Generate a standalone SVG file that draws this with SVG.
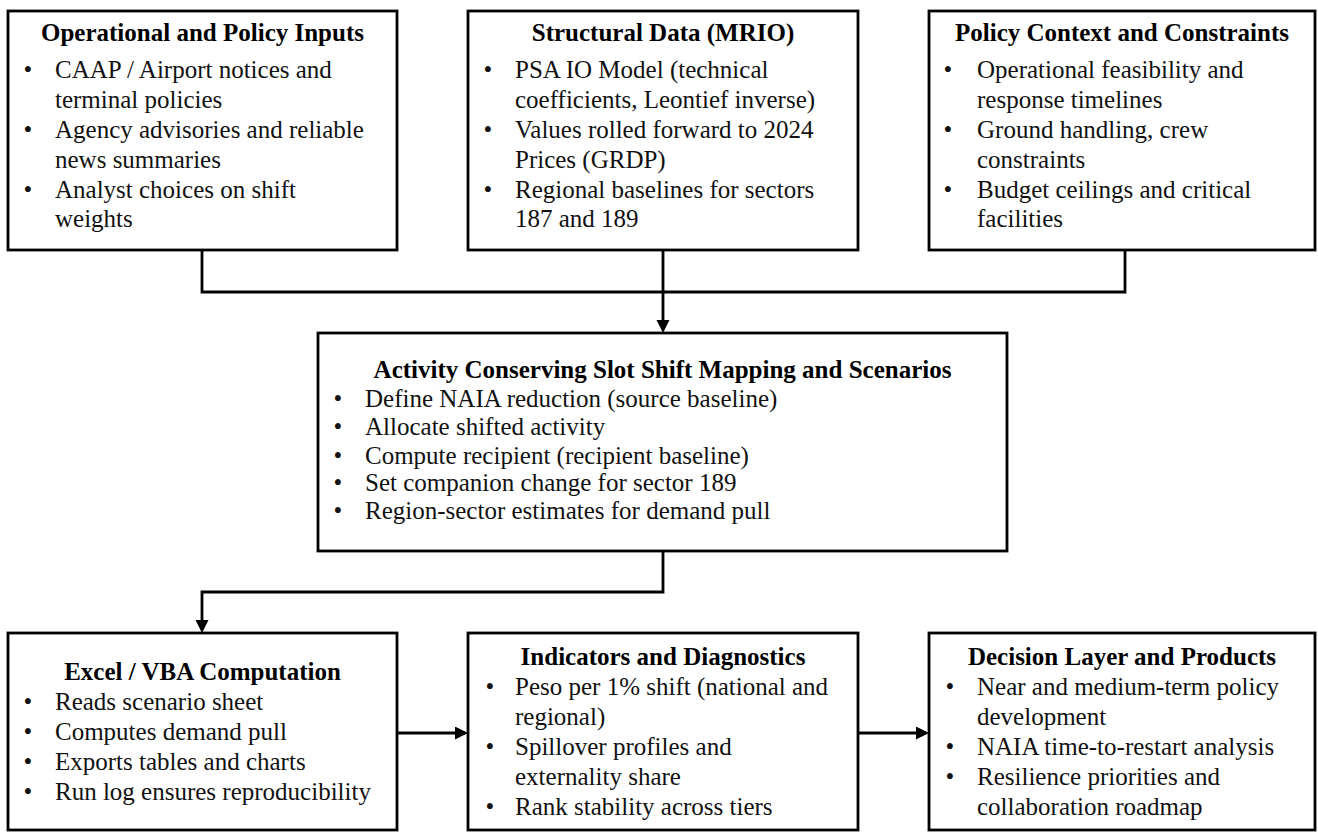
<svg xmlns="http://www.w3.org/2000/svg" width="1318" height="832" viewBox="0 0 1318 832">
<style>
.box{fill:#fff;stroke:#000;stroke-width:2.8}
.t{font-family:"Liberation Serif","Times New Roman",serif;font-size:25px;font-weight:bold;fill:#000;text-anchor:middle}
.b{font-family:"Liberation Serif","Times New Roman",serif;font-size:25px;fill:#111}
.d{font-family:"Liberation Serif","Times New Roman",serif;font-size:25px;fill:#111;text-anchor:middle}
.c{fill:none;stroke:#000;stroke-width:2.8}
</style>
<defs>
<marker id="ah" markerUnits="userSpaceOnUse" markerWidth="14" markerHeight="14" refX="10" refY="6.5" orient="auto">
<path d="M0,0 L13,6.5 L0,13 z" fill="#000"/>
</marker>
</defs>
<rect width="1318" height="832" fill="#fff"/>
<g id="connectors">
<path class="c" d="M202,250 V292 H1125 V250"/>
<path class="c" d="M663,250 V330" marker-end="url(#ah)"/>
<path class="c" d="M663,551 V592 H202 V630" marker-end="url(#ah)"/>
<path class="c" d="M397,733 H465" marker-end="url(#ah)"/>
<path class="c" d="M858,733 H926" marker-end="url(#ah)"/>
</g>
<g id="node-inputs">
<rect class="box" x="8" y="11" width="389" height="239"/>
<text class="t" x="202.5" y="41">Operational and Policy Inputs</text>
<text class="d" x="28" y="78">•</text><text class="b" x="55" y="78">CAAP / Airport notices and</text>
<text class="b" x="55" y="108">terminal policies</text>
<text class="d" x="28" y="138">•</text><text class="b" x="55" y="138">Agency advisories and reliable</text>
<text class="b" x="55" y="168">news summaries</text>
<text class="d" x="28" y="198">•</text><text class="b" x="55" y="198">Analyst choices on shift</text>
<text class="b" x="55" y="227">weights</text>
</g>
<g id="node-mrio">
<rect class="box" x="468" y="11" width="390" height="239"/>
<text class="t" x="663" y="41">Structural Data (MRIO)</text>
<text class="d" x="488" y="78">•</text><text class="b" x="515" y="78">PSA IO Model (technical</text>
<text class="b" x="515" y="108">coefficients, Leontief inverse)</text>
<text class="d" x="488" y="138">•</text><text class="b" x="515" y="138">Values rolled forward to 2024</text>
<text class="b" x="515" y="168">Prices (GRDP)</text>
<text class="d" x="488" y="198">•</text><text class="b" x="515" y="198">Regional baselines for sectors</text>
<text class="b" x="515" y="227">187 and 189</text>
</g>
<g id="node-context">
<rect class="box" x="929" y="11" width="386" height="239"/>
<text class="t" x="1122" y="41">Policy Context and Constraints</text>
<text class="d" x="948" y="78">•</text><text class="b" x="977" y="78">Operational feasibility and</text>
<text class="b" x="977" y="108">response timelines</text>
<text class="d" x="948" y="138">•</text><text class="b" x="977" y="138">Ground handling, crew</text>
<text class="b" x="977" y="168">constraints</text>
<text class="d" x="948" y="198">•</text><text class="b" x="977" y="198">Budget ceilings and critical</text>
<text class="b" x="977" y="227">facilities</text>
</g>
<g id="node-mapping">
<rect class="box" x="318" y="333" width="689" height="218"/>
<text class="t" x="662.5" y="378">Activity  Conserving Slot Shift Mapping and Scenarios</text>
<text class="d" x="338" y="407">•</text><text class="b" x="365" y="407">Define NAIA reduction (source baseline)</text>
<text class="d" x="338" y="435">•</text><text class="b" x="365" y="435">Allocate shifted activity</text>
<text class="d" x="338" y="464">•</text><text class="b" x="365" y="464">Compute recipient (recipient baseline)</text>
<text class="d" x="338" y="491">•</text><text class="b" x="365" y="491">Set companion change for sector 189</text>
<text class="d" x="338" y="519">•</text><text class="b" x="365" y="519">Region-sector estimates for demand pull</text>
</g>
<g id="node-excel">
<rect class="box" x="8" y="633" width="389" height="197"/>
<text class="t" x="202.5" y="680">Excel / VBA Computation</text>
<text class="d" x="28" y="710">•</text><text class="b" x="55" y="710">Reads scenario sheet</text>
<text class="d" x="28" y="740">•</text><text class="b" x="55" y="740">Computes demand pull</text>
<text class="d" x="28" y="770">•</text><text class="b" x="55" y="770">Exports tables and charts</text>
<text class="d" x="28" y="800">•</text><text class="b" x="55" y="800">Run log ensures reproducibility</text>
</g>
<g id="node-indicators">
<rect class="box" x="468" y="633" width="390" height="197"/>
<text class="t" x="663" y="665">Indicators and Diagnostics</text>
<text class="d" x="490" y="695">•</text><text class="b" x="515" y="695">Peso per 1% shift (national and</text>
<text class="b" x="515" y="725">regional)</text>
<text class="d" x="490" y="755">•</text><text class="b" x="515" y="755">Spillover profiles and</text>
<text class="b" x="515" y="785">externality share</text>
<text class="d" x="490" y="815">•</text><text class="b" x="515" y="815">Rank stability across tiers</text>
</g>
<g id="node-decision">
<rect class="box" x="929" y="633" width="386" height="197"/>
<text class="t" x="1122" y="665">Decision Layer and Products</text>
<text class="d" x="950" y="695">•</text><text class="b" x="977" y="695">Near and medium-term policy</text>
<text class="b" x="977" y="725">development</text>
<text class="d" x="950" y="755">•</text><text class="b" x="977" y="755">NAIA time-to-restart analysis</text>
<text class="d" x="950" y="785">•</text><text class="b" x="977" y="785">Resilience priorities and</text>
<text class="b" x="977" y="815">collaboration roadmap</text>
</g>
</svg>
